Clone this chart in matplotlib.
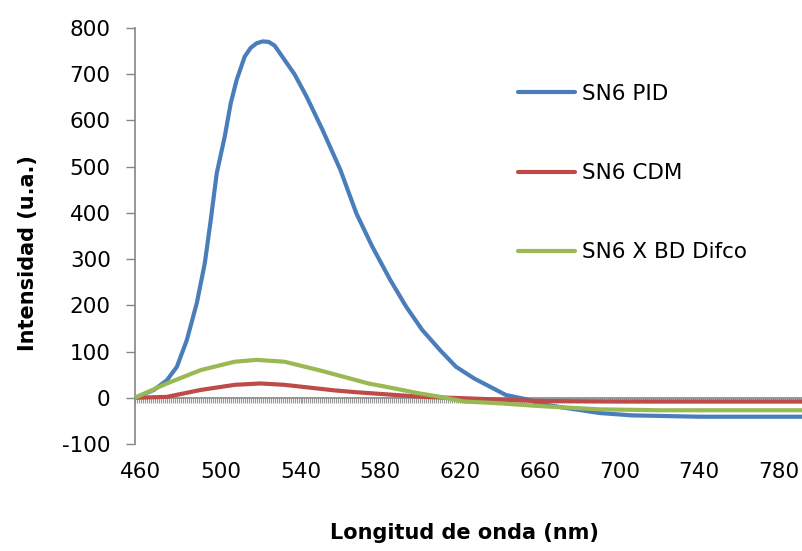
import matplotlib
matplotlib.use("Agg")
import matplotlib.pyplot as plt
from matplotlib.ticker import MultipleLocator

plt.rcParams['font.family'] = ['DejaVu Sans']
plt.rcParams['axes.unicode_minus'] = False

# ---- data ----
wl_pid = [457, 466.5, 473, 478, 483, 488, 492, 495, 498, 502, 505, 508, 512, 515,
          518, 521, 524, 527, 532, 537, 543, 551, 560, 568, 576, 585, 593, 601,
          610, 618, 627, 635, 643, 653, 660, 673, 690, 706, 740, 792]
pid = [0, 17, 38, 67, 125, 205, 291, 385, 486, 565, 637, 688, 738, 757,
       767, 771, 770, 762, 731, 700, 652, 580, 493, 399, 327, 255, 197, 147,
       103, 67, 42, 24, 6, -3, -13, -22, -33, -38, -41, -41]

wl_cdm = [457, 473, 490, 507, 520, 532, 557, 568, 591, 601, 622, 640, 660, 700, 792]
cdm = [0, 2, 17, 28, 31, 28, 16, 12, 5, 2, -1, -4, -7, -8, -8]

wl_bd = [457, 473, 490, 507, 518, 532, 549, 562, 574, 585, 599, 610, 622, 640,
         660, 690, 720, 792]
bd = [0, 31, 60, 78, 82, 78, 60, 45, 31, 22, 10, 2, -8, -12, -18, -25, -27, -27]

series_names = ["SN6 PID", "SN6 CDM", "SN6 X BD Difco"]
series_colors = ["#4A7EBB", "#BE4B48", "#98B954"]
x_ticks = [460, 500, 540, 580, 620, 660, 700, 740, 780]
y_ticks = [-100, 0, 100, 200, 300, 400, 500, 600, 700, 800]
x_label = "Longitud de onda (nm)"
y_label = "Intensidad (u.a.)"

# ---- figure ----
W, H = 803, 551
fig = plt.figure(figsize=(W / 100, H / 100), dpi=100)
ax = fig.add_axes([135 / W, (H - 444) / H, (W - 135) / W, (444 - 28) / H])

gray = "#868686"
lw = 3.0
ax.plot(wl_pid, pid, color=series_colors[0], lw=lw, label=series_names[0],
        zorder=3, solid_capstyle='round', solid_joinstyle='round')
ax.plot(wl_cdm, cdm, color=series_colors[1], lw=lw, label=series_names[1],
        zorder=4, solid_capstyle='round', solid_joinstyle='round')
ax.plot(wl_bd, bd, color=series_colors[2], lw=lw, label=series_names[2],
        zorder=5, solid_capstyle='round', solid_joinstyle='round')

ax.set_xlim(457, 792)
ax.set_ylim(-100, 800)

for s in ["top", "right", "bottom"]:
    ax.spines[s].set_visible(False)
ax.spines["left"].set_color(gray)
ax.spines["left"].set_linewidth(1.2)

ax.set_yticks(y_ticks)
ax.tick_params(axis='y', direction='out', length=6.5, width=1.0, color=gray,
               pad=11, labelsize=15.5, labelcolor='black')

ax.set_xticks(x_ticks)
ax.set_xticklabels([str(v) for v in x_ticks])
ax.tick_params(axis='x', length=0, pad=13, labelsize=15.5, labelcolor='black')

# axis line at y = 0 with a small tick for every category
frac0 = (0 - (-100)) / 900
sec = ax.secondary_xaxis(frac0)
sec.spines['bottom'].set_color(gray)
sec.spines['bottom'].set_linewidth(1.2)
sec.xaxis.set_major_locator(MultipleLocator(1))
sec.tick_params(axis='x', direction='out', length=3.5, width=0.8, color="#9a9a9a",
                labelbottom=False)
sec.set_zorder(1)

fig.text(28 / W, 1 - 253 / H, y_label, rotation=90, ha='center', va='center',
         fontsize=15, fontweight='bold')
fig.text(464 / W, 1 - 533 / H, x_label, ha='center', va='center',
         fontsize=15, fontweight='bold')

leg = fig.legend(loc='upper left', bbox_to_anchor=(518 / W, 1 - 84 / H),
                 frameon=False, fontsize=15.5, handlelength=2.65,
                 handletextpad=0.3, labelspacing=2.75, borderpad=0,
                 borderaxespad=0)

fig.savefig("out.png", dpi=100)
